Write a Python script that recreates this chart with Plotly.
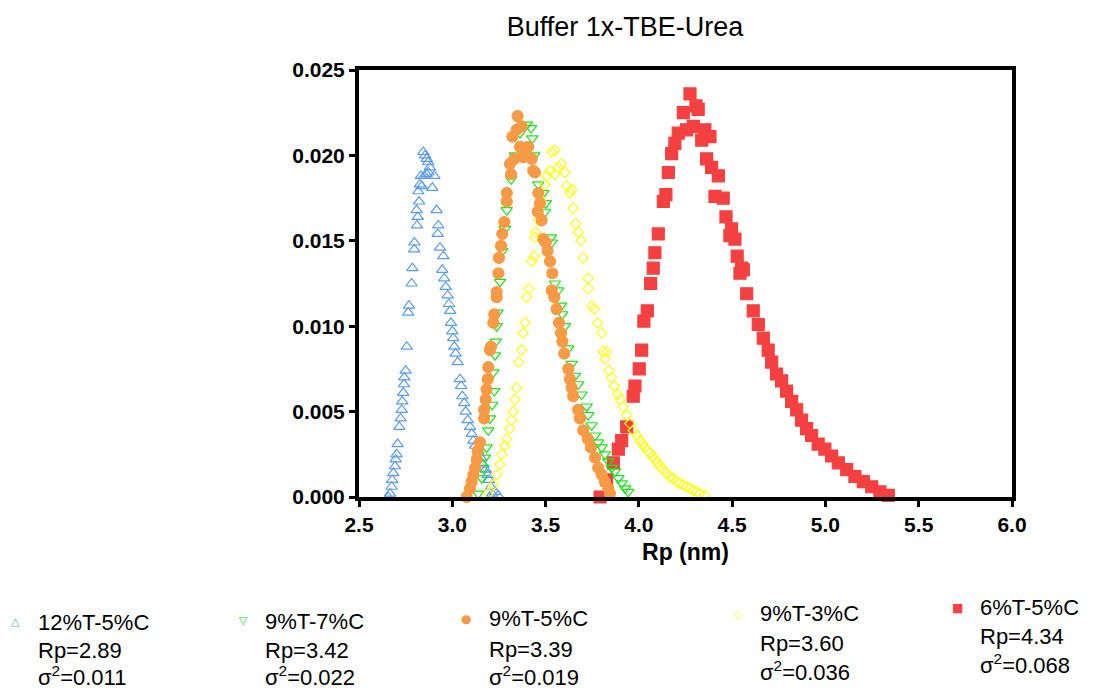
import plotly.graph_objects as go

# ---------------- data (Rp in nm, normalized frequency) ----------------
series_names = ["12%T-5%C", "9%T-7%C", "9%T-5%C", "9%T-3%C", "6%T-5%C"]
rp_values = ["2.89", "3.42", "3.39", "3.60", "4.34"]
sigma2_values = ["0.011", "0.022", "0.019", "0.036", "0.068"]

pts_12T5C = [
    (2.657, 0.0000), (2.666, 0.0002), (2.675, 0.0006), (2.678, 0.0010), (2.684, 0.0014),
    (2.693, 0.0018), (2.697, 0.0022), (2.702, 0.0025), (2.707, 0.0031), (2.716, 0.0041),
    (2.723, 0.0046), (2.729, 0.0051), (2.732, 0.0056), (2.737, 0.0061), (2.741, 0.0066),
    (2.743, 0.0070), (2.750, 0.0074), (2.756, 0.0088), (2.764, 0.0108), (2.768, 0.0112),
    (2.782, 0.0125), (2.786, 0.0134), (2.796, 0.0145), (2.797, 0.0149), (2.811, 0.0159),
    (2.815, 0.0164), (2.809, 0.0168), (2.822, 0.0173), (2.818, 0.0179), (2.827, 0.0183),
    (2.832, 0.0188), (2.836, 0.0182), (2.845, 0.0202), (2.850, 0.0188), (2.854, 0.0200),
    (2.863, 0.0198), (2.862, 0.0189), (2.871, 0.0196), (2.872, 0.0190), (2.880, 0.0193),
    (2.893, 0.0181), (2.904, 0.0188), (2.916, 0.0168), (2.922, 0.0154), (2.925, 0.0159),
    (2.934, 0.0146), (2.946, 0.0133), (2.952, 0.0141), (2.957, 0.0128), (2.965, 0.0123),
    (2.975, 0.0118), (2.982, 0.0113), (2.989, 0.0109), (2.993, 0.0102), (3.000, 0.0097),
    (3.005, 0.0093), (3.011, 0.0088), (3.018, 0.0084), (3.029, 0.0079), (3.041, 0.0069),
    (3.047, 0.0065), (3.054, 0.0059), (3.064, 0.0055), (3.072, 0.0050), (3.083, 0.0045),
    (3.095, 0.0041), (3.104, 0.0037), (3.113, 0.0033), (3.122, 0.0030), (3.139, 0.0027),
    (3.154, 0.0023), (3.166, 0.0019), (3.179, 0.0016), (3.190, 0.0013), (3.197, 0.0010),
    (3.207, 0.0006), (3.214, 0.0002), (3.230, 0.0003), (3.245, 0.0001),
]

pts_9T7C = [
    (3.139, 0.0002), (3.158, 0.0011), (3.166, 0.0017), (3.175, 0.0023), (3.184, 0.0029),
    (3.193, 0.0039), (3.202, 0.0046), (3.214, 0.0054), (3.225, 0.0062), (3.220, 0.0073),
    (3.229, 0.0083), (3.233, 0.0091), (3.238, 0.0100), (3.243, 0.0108), (3.256, 0.0126),
    (3.268, 0.0144), (3.282, 0.0157), (3.292, 0.0168), (3.315, 0.0186), (3.336, 0.0200),
    (3.363, 0.0213), (3.399, 0.0218), (3.422, 0.0216), (3.429, 0.0210), (3.439, 0.0200),
    (3.461, 0.0183), (3.488, 0.0178), (3.501, 0.0172), (3.497, 0.0167), (3.529, 0.0152),
    (3.533, 0.0149), (3.550, 0.0125), (3.568, 0.0121), (3.583, 0.0112), (3.590, 0.0107),
    (3.604, 0.0100), (3.622, 0.0087), (3.640, 0.0078), (3.658, 0.0071), (3.675, 0.0066),
    (3.693, 0.0060), (3.720, 0.0053), (3.729, 0.0048), (3.747, 0.0042), (3.765, 0.0036),
    (3.782, 0.0032), (3.801, 0.0029), (3.818, 0.0025), (3.836, 0.0021), (3.854, 0.0017),
    (3.872, 0.0015), (3.890, 0.0011), (3.908, 0.0008), (3.926, 0.0005), (3.943, 0.0003),
]

pts_9T5C = [
    (3.077, 0.0000), (3.095, 0.0005), (3.104, 0.0009), (3.113, 0.0013), (3.122, 0.0017),
    (3.131, 0.0022), (3.136, 0.0027), (3.148, 0.0032), (3.171, 0.0046), (3.171, 0.0051),
    (3.179, 0.0057), (3.184, 0.0063), (3.190, 0.0069), (3.193, 0.0076), (3.202, 0.0086),
    (3.207, 0.0088), (3.220, 0.0102), (3.225, 0.0107), (3.238, 0.0117), (3.238, 0.0120),
    (3.247, 0.0131), (3.250, 0.0140), (3.261, 0.0147), (3.268, 0.0154), (3.279, 0.0161),
    (3.292, 0.0173), (3.292, 0.0178), (3.315, 0.0189), (3.309, 0.0195), (3.332, 0.0198),
    (3.322, 0.0211), (3.345, 0.0215), (3.350, 0.0223), (3.372, 0.0217), (3.363, 0.0205),
    (3.380, 0.0199), (3.390, 0.0204), (3.407, 0.0205), (3.426, 0.0198), (3.434, 0.0191),
    (3.443, 0.0190), (3.461, 0.0178), (3.470, 0.0172), (3.458, 0.0167), (3.479, 0.0162),
    (3.488, 0.0151), (3.501, 0.0149), (3.511, 0.0144), (3.524, 0.0138), (3.536, 0.0131),
    (3.533, 0.0121), (3.547, 0.0117), (3.559, 0.0110), (3.572, 0.0102), (3.583, 0.0096),
    (3.590, 0.0091), (3.600, 0.0084), (3.622, 0.0075), (3.631, 0.0069), (3.640, 0.0064),
    (3.648, 0.0059), (3.675, 0.0051), (3.684, 0.0046), (3.702, 0.0039), (3.726, 0.0034),
    (3.743, 0.0029), (3.765, 0.0023), (3.782, 0.0017), (3.801, 0.0013), (3.818, 0.0009),
    (3.836, 0.0005), (3.845, 0.0002),
]

pts_9T3C = [
    (3.193, 0.0002), (3.220, 0.0007), (3.238, 0.0013), (3.256, 0.0019), (3.265, 0.0025),
    (3.282, 0.0030), (3.292, 0.0034), (3.309, 0.0040), (3.318, 0.0045), (3.327, 0.0050),
    (3.336, 0.0057), (3.345, 0.0064), (3.357, 0.0079), (3.372, 0.0086), (3.380, 0.0096),
    (3.390, 0.0102), (3.399, 0.0117), (3.411, 0.0122), (3.426, 0.0138), (3.439, 0.0141),
    (3.443, 0.0152), (3.447, 0.0155), (3.461, 0.0162), (3.475, 0.0174), (3.497, 0.0183),
    (3.506, 0.0188), (3.524, 0.0191), (3.533, 0.0202), (3.550, 0.0203), (3.568, 0.0193),
    (3.550, 0.0189), (3.586, 0.0195), (3.604, 0.0190), (3.613, 0.0182), (3.631, 0.0178),
    (3.640, 0.0180), (3.648, 0.0169), (3.661, 0.0160), (3.675, 0.0155), (3.690, 0.0150),
    (3.702, 0.0140), (3.729, 0.0128), (3.729, 0.0122), (3.747, 0.0112), (3.761, 0.0110),
    (3.779, 0.0102), (3.801, 0.0096), (3.809, 0.0085), (3.827, 0.0085), (3.818, 0.0081),
    (3.840, 0.0074), (3.854, 0.0070), (3.868, 0.0065), (3.886, 0.0060), (3.899, 0.0057),
    (3.916, 0.0053), (3.935, 0.0048), (3.952, 0.0043), (3.970, 0.0039), (3.990, 0.0036),
    (4.006, 0.0033), (4.020, 0.0031), (4.033, 0.0029), (4.046, 0.0027), (4.059, 0.0026),
    (4.072, 0.0024), (4.086, 0.0022), (4.100, 0.0020), (4.113, 0.0018), (4.131, 0.0016),
    (4.149, 0.0014), (4.166, 0.0012), (4.184, 0.0011), (4.202, 0.0009), (4.220, 0.0008),
    (4.238, 0.0007), (4.256, 0.0006), (4.274, 0.0005), (4.292, 0.0004), (4.310, 0.0003),
    (4.327, 0.0002), (4.354, 0.0001),
]

pts_6T5C = [
    (3.792, 0.0000), (3.827, 0.0010), (3.863, 0.0020), (3.890, 0.0028), (3.908, 0.0033),
    (3.935, 0.0041), (3.970, 0.0059), (3.979, 0.0065), (4.002, 0.0075), (4.015, 0.0086),
    (4.027, 0.0103), (4.045, 0.0109), (4.063, 0.0125), (4.077, 0.0134), (4.086, 0.0143),
    (4.104, 0.0154), (4.131, 0.0173), (4.145, 0.0177), (4.158, 0.0190), (4.176, 0.0201),
    (4.193, 0.0207), (4.211, 0.0213), (4.238, 0.0225), (4.256, 0.0215), (4.274, 0.0236),
    (4.292, 0.0217), (4.306, 0.0229), (4.318, 0.0227), (4.354, 0.0215), (4.337, 0.0209),
    (4.381, 0.0211), (4.363, 0.0198), (4.390, 0.0193), (4.426, 0.0188), (4.408, 0.0176),
    (4.452, 0.0175), (4.467, 0.0164), (4.497, 0.0157), (4.488, 0.0153), (4.515, 0.0151),
    (4.527, 0.0141), (4.551, 0.0134), (4.542, 0.0131), (4.560, 0.0133), (4.578, 0.0119),
    (4.613, 0.0109), (4.640, 0.0101), (4.667, 0.0093), (4.693, 0.0086), (4.712, 0.0079),
    (4.738, 0.0072), (4.765, 0.0068), (4.792, 0.0062), (4.819, 0.0056), (4.846, 0.0051),
    (4.872, 0.0045), (4.899, 0.0040), (4.926, 0.0036), (4.961, 0.0031), (4.997, 0.0028),
    (5.033, 0.0024), (5.069, 0.0020), (5.114, 0.0016), (5.158, 0.0012), (5.203, 0.0009),
    (5.248, 0.0006), (5.292, 0.0003), (5.337, 0.0001),
]

all_points = [pts_12T5C, pts_9T7C, pts_9T5C, pts_9T3C, pts_6T5C]

# ---------------- styles ----------------
colors = ["#5a9bef", "#19e619", "#f79a45", "#ffff1a", "#f44040"]
symbols = ["triangle-up-open", "triangle-down-open", "circle", "diamond-open", "square"]
sizes = [10, 10, 11, 8, 12]
legend_glyphs = ["△", "▽", "●", "◇", "■"]
draw_order = [4, 0, 1, 3, 2]

FONT = "Arial, 'Liberation Sans', Helvetica, sans-serif"

fig = go.Figure()
for i in draw_order:
    xs = [p[0] for p in all_points[i]]
    ys = [p[1] for p in all_points[i]]
    fig.add_trace(go.Scatter(
        x=xs, y=ys, mode="markers", name=series_names[i], showlegend=False,
        cliponaxis=False,
        marker=dict(symbol=symbols[i], size=sizes[i], color=colors[i],
                    line=dict(width=1.2, color=colors[i])),
    ))

# plot-area geometry in pixels
W, H = 1115, 690
L, R, T, B = 359, 1012, 70, 497


def px_to_paper(px, py):
    return (px - L) / (R - L), (B - py) / (B - T)


# legend (custom, below the chart)
legend_layout = [
    # marker (x,y), text left x, three line y's
    ((15, 621), 36, (622, 650, 676)),
    ((243, 620), 263, (621, 650, 676)),
    ((466, 619), 487, (618, 649, 676)),
    ((738, 615), 758, (613, 643, 671)),
    ((957, 608), 978, (607, 636, 664)),
]
annotations = []
for i, ((mx, my), tx, lines_y) in enumerate(legend_layout):
    ax, ay = px_to_paper(mx, my)
    annotations.append(dict(
        x=ax, y=ay, xref="paper", yref="paper", text=legend_glyphs[i],
        showarrow=False, xanchor="center", yanchor="middle",
        font=dict(family="DejaVu Sans", size=11 if i in (0, 1, 3) else 12, color=colors[i]),
    ))
    texts = [series_names[i], "Rp=" + rp_values[i], "σ<sup>2</sup>=" + sigma2_values[i]]
    for t, ly in zip(texts, lines_y):
        lx, lyp = px_to_paper(tx, ly)
        annotations.append(dict(
            x=lx, y=lyp, xref="paper", yref="paper", text=t, showarrow=False,
            xanchor="left", yanchor="middle",
            font=dict(family=FONT, size=22, color="black"),
        ))

axis_common = dict(
    showline=True, linecolor="black", linewidth=4, mirror=True,
    ticks="outside", ticklen=6, tickwidth=3, tickcolor="black",
    showgrid=False, zeroline=False,
    tickfont=dict(family=FONT, size=21, color="black", weight="bold"),
)

fig.update_layout(
    width=W, height=H,
    margin=dict(l=L, r=W - R, t=T, b=H - B, pad=0),
    paper_bgcolor="white", plot_bgcolor="white",
    title=dict(text="Buffer 1x-TBE-Urea", x=625 / W, xref="container", xanchor="center",
               y=1 - 27 / H, yref="container", yanchor="middle",
               font=dict(family=FONT, size=27, color="black")),
    xaxis=dict(range=[2.5, 6.0], dtick=0.5, tick0=2.5, tickformat=".1f",
               title=dict(text="Rp (nm)", standoff=10,
                          font=dict(family=FONT, size=23, color="black", weight="bold")),
               **axis_common),
    yaxis=dict(range=[0, 0.025], dtick=0.005, tickformat=".3f", **axis_common),
    annotations=annotations,
    showlegend=False,
)

fig.write_html("out.html")
